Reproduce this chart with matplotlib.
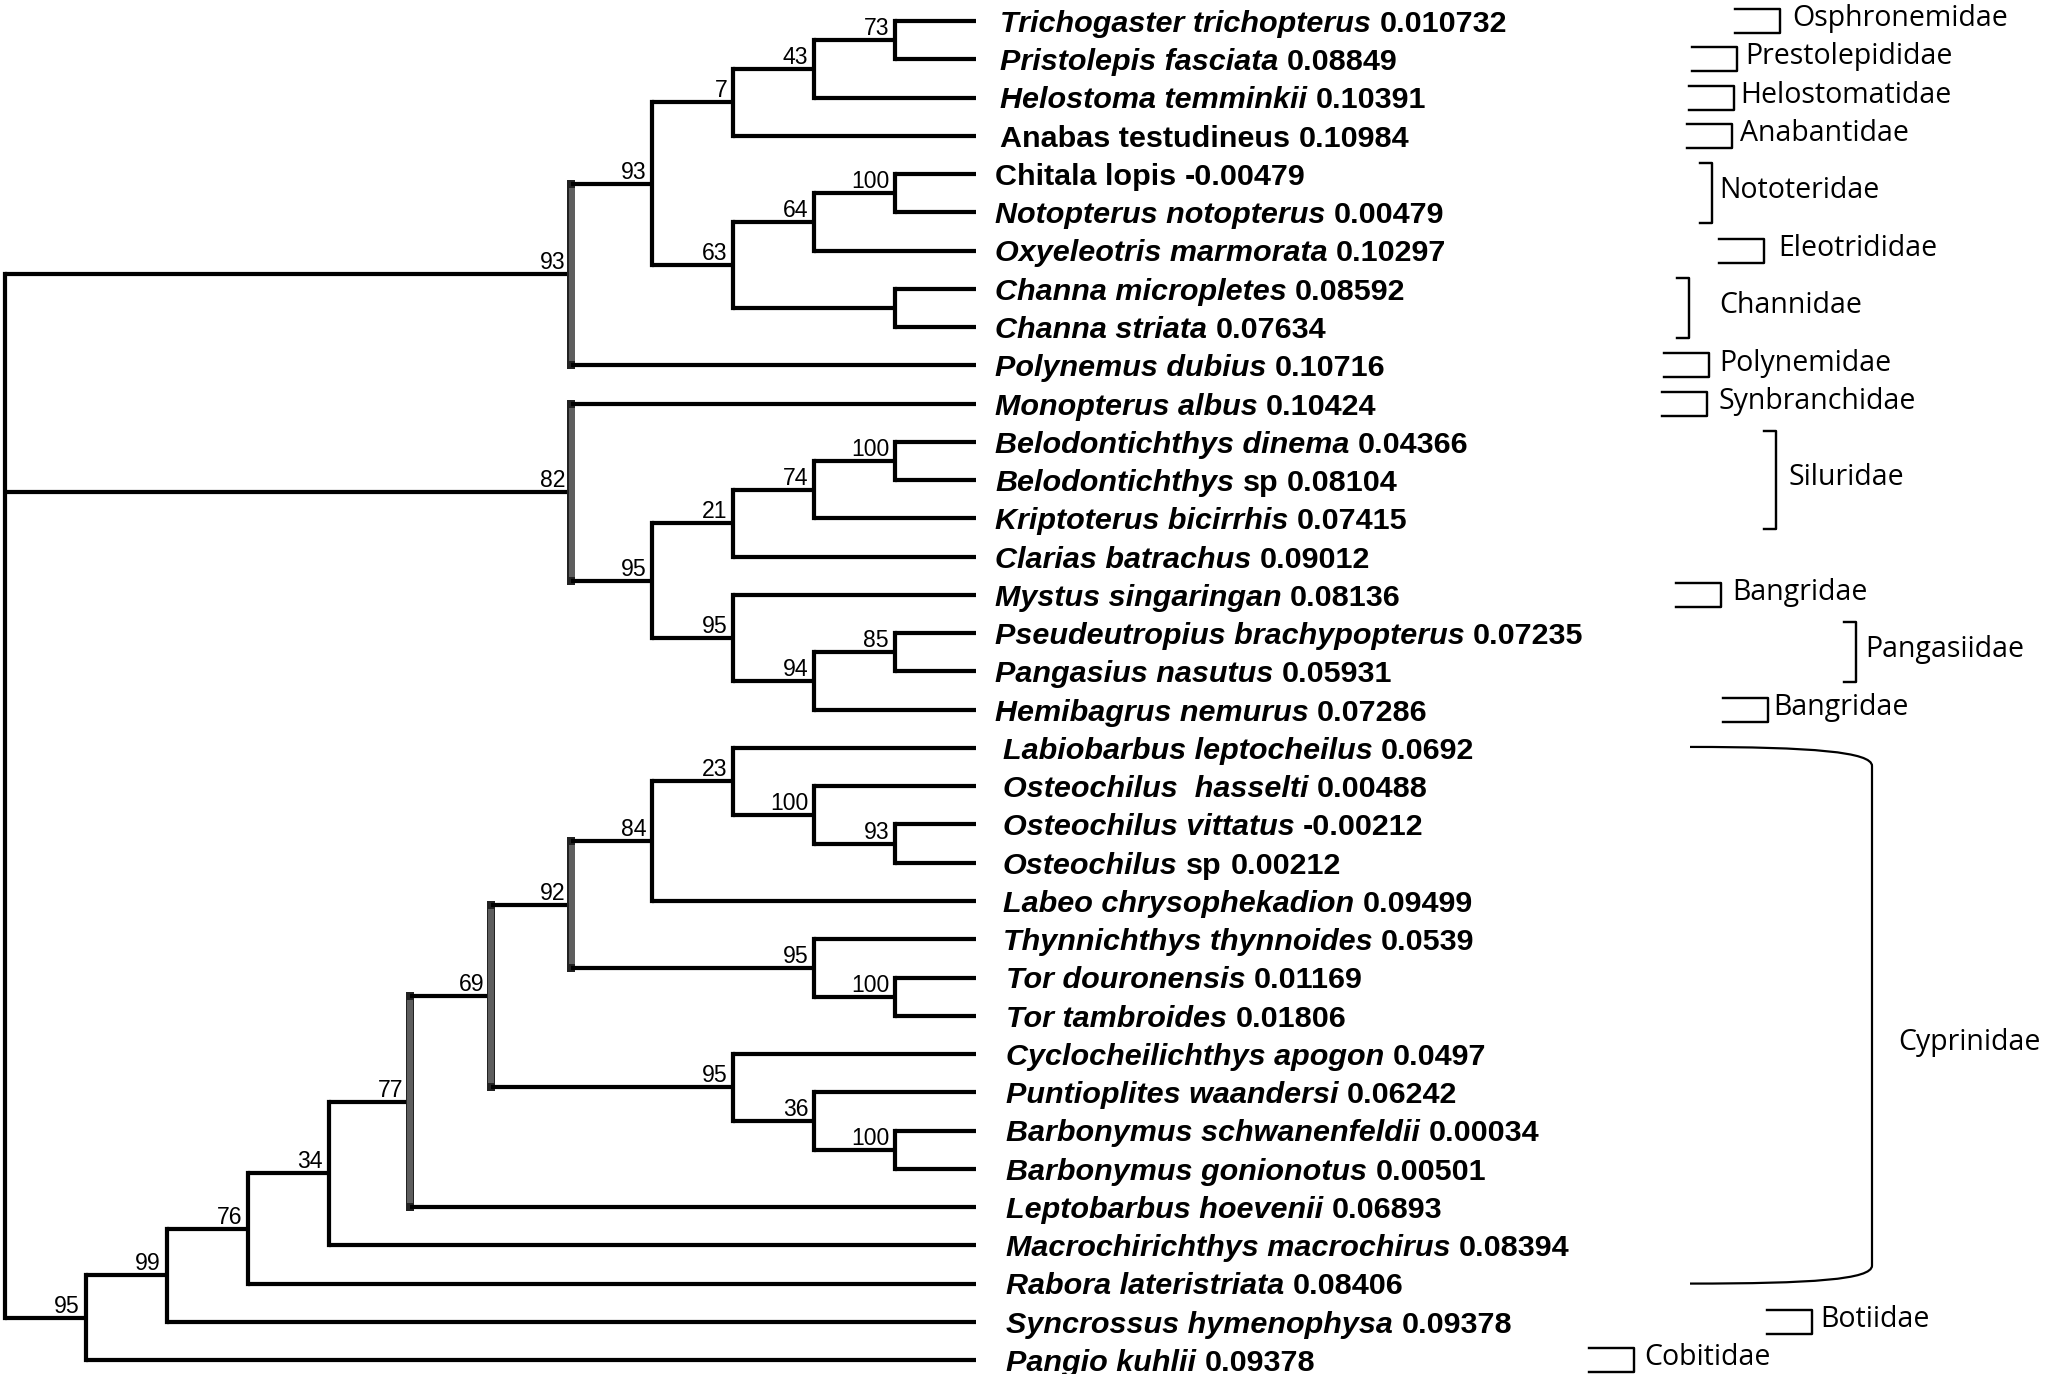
import matplotlib
matplotlib.use("Agg")
import matplotlib.pyplot as plt
from matplotlib.path import Path
from matplotlib.patches import PathPatch

# topology (leaves numbered top to bottom), internal labels = bootstrap support
tree_newick = ("((((((0,1)73,2)43,3)7,(((4,5)100,6)64,(7,8))63)93,9)93,"
               "(10,((((11,12)100,13)74,14)21,(15,((16,17)85,18)94)95)95)82,"
               "(((((((((19,(20,(21,22)93)100)23,23)84,(24,(25,26)100)95)92,"
               "(27,(28,(29,30)100)36)95)69,31)77,32)34,33)76,34)99,35)95);")

leaf_names = ["Trichogaster trichopterus", "Pristolepis fasciata", "Helostoma temminkii",
              "Anabas testudineus", "Chitala lopis", "Notopterus notopterus",
              "Oxyeleotris marmorata", "Channa micropletes", "Channa striata",
              "Polynemus dubius", "Monopterus albus", "Belodontichthys dinema",
              "Belodontichthys sp", "Kriptoterus bicirrhis", "Clarias batrachus",
              "Mystus singaringan", "Pseudeutropius brachypopterus", "Pangasius nasutus",
              "Hemibagrus nemurus", "Labiobarbus leptocheilus", "Osteochilus  hasselti",
              "Osteochilus vittatus", "Osteochilus sp", "Labeo chrysophekadion",
              "Thynnichthys thynnoides", "Tor douronensis", "Tor tambroides",
              "Cyclocheilichthys apogon", "Puntioplites waandersi", "Barbonymus schwanenfeldii",
              "Barbonymus gonionotus", "Leptobarbus hoevenii", "Macrochirichthys macrochirus",
              "Rabora lateristriata", "Syncrossus hymenophysa", "Pangio kuhlii"]
leaf_values = ["0.010732", "0.08849", "0.10391", "0.10984", "-0.00479", "0.00479",
               "0.10297", "0.08592", "0.07634", "0.10716", "0.10424", "0.04366",
               "0.08104", "0.07415", "0.09012", "0.08136", "0.07235", "0.05931",
               "0.07286", "0.0692", "0.00488", "-0.00212", "0.00212", "0.09499",
               "0.0539", "0.01169", "0.01806", "0.0497", "0.06242", "0.00034",
               "0.00501", "0.06893", "0.08394", "0.08406", "0.09378", "0.09378"]
upright_names = ["Anabas testudineus", "Chitala lopis"]

family_names = ["Osphronemidae", "Prestolepididae", "Helostomatidae", "Anabantidae",
                "Nototeridae", "Eleotrididae", "Channidae", "Polynemidae", "Synbranchidae",
                "Siluridae", "Bangridae", "Pangasiidae", "Bangridae", "Cyprinidae",
                "Botiidae", "Cobitidae"]
family_first = [0, 1, 2, 3, 4, 6, 7, 9, 10, 11, 15, 16, 18, 19, 34, 35]
family_last = [0, 1, 2, 3, 5, 6, 8, 9, 10, 13, 15, 17, 18, 33, 34, 35]

# layout (pixel units)
bracket_x = [1780, 1737, 1734, 1732, 1712, 1764, 1689, 1709, 1707, 1776, 1721, 1856, 1768, 1872, 1812, 1634]
family_text_x = [1792, 1745, 1740, 1740, 1719, 1778, 1719, 1719, 1719, 1789, 1732, 1865, 1773, 1898, 1820, 1644]
label_x = [1000] * 4 + [995] * 15 + [1003] * 6 + [1006] * 11
W, H = 2045, 1374
leaf_x, step = 976, 80.9
y0, dy = 21, 38.26
PT = 0.72  # px -> pt at dpi 100


def parse_newick(s):
    pos = 0

    def token():
        nonlocal pos
        start = pos
        while s[pos] not in ",();":
            pos += 1
        return s[start:pos]

    def node():
        nonlocal pos
        if s[pos] == "(":
            pos += 1
            kids = [node()]
            while s[pos] == ",":
                pos += 1
                kids.append(node())
            pos += 1
            return {"kids": kids, "label": token()}
        return {"kids": [], "leaf": int(token())}

    return node()


def layout(n):
    if not n["kids"]:
        n["h"] = 0
        n["y"] = y0 + n["leaf"] * dy
    else:
        for k in n["kids"]:
            layout(k)
        n["h"] = 1 + max(k["h"] for k in n["kids"])
        n["y"] = (n["kids"][0]["y"] + n["kids"][-1]["y"]) / 2
    n["x"] = leaf_x - n["h"] * step


fig = plt.figure(figsize=(W / 100, H / 100), dpi=100)
ax = fig.add_axes([0, 0, 1, 1])
ax.set_xlim(0, W)
ax.set_ylim(H, 0)
ax.axis("off")

root = parse_newick(tree_newick)
layout(root)

tree_lw = 4.2 * PT


def draw(n):
    if not n["kids"]:
        return
    ys = [k["y"] for k in n["kids"]]
    if 5 <= n["h"] <= 7:
        # the deep internal verticals render as a grey bar in the original
        ax.plot([n["x"], n["x"]], [min(ys), max(ys)], color="#222222", lw=8 * PT,
                solid_capstyle="projecting", zorder=2)
        ax.plot([n["x"] + 0.8, n["x"] + 0.8], [min(ys) + 4, max(ys) - 4], color="#5e5e5e",
                lw=6 * PT, solid_capstyle="butt", zorder=3)
    else:
        ax.plot([n["x"], n["x"]], [min(ys), max(ys)], color="black", lw=tree_lw,
                solid_capstyle="projecting", zorder=2)
    for k in n["kids"]:
        ax.plot([n["x"], k["x"]], [k["y"], k["y"]], color="black", lw=tree_lw,
                solid_capstyle="butt", zorder=2)
        draw(k)
    if n.get("label"):
        ax.text(n["x"] - 6, n["y"] - 5, n["label"], ha="right", va="baseline",
                fontsize=23 * PT, family="Liberation Sans", color="black", zorder=4)


draw(root)

# leaf labels
renderer = fig.canvas.get_renderer()
lab_px = 30.5
cap = 0.716 * lab_px
for i, name in enumerate(leaf_names):
    y = y0 + i * dy + cap / 2
    x = label_x[i]
    if name in upright_names:
        parts = [(name, "normal")]
    elif name.endswith(" sp"):
        parts = [(name[:-3], "italic"), ("sp", "normal")]
    else:
        parts = [(name, "italic")]
    parts.append((leaf_values[i], "normal"))
    for txt, style in parts:
        t = ax.text(x, y, txt, ha="left", va="baseline", fontsize=lab_px * PT,
                    family="Liberation Sans", weight="bold", style=style, color="black")
        x += t.get_window_extent(renderer).width + 0.278 * lab_px

# family brackets
fam_px = 28.5
fam_cap = 0.714 * fam_px
blw = 2.4 * PT
for name, a, b, xr, tx in zip(family_names, family_first, family_last, bracket_x, family_text_x):
    ya = y0 + a * dy
    yb = y0 + b * dy
    ty = (ya + yb) / 2 - 5
    if b - a > 5:
        verts = [(xr - 182, ya - 1), (xr - 60, ya - 1), (xr, ya + 4), (xr, ya + 18),
                 (xr, yb - 18), (xr, yb - 4), (xr - 60, yb), (xr - 182, yb)]
        codes = [Path.MOVETO, Path.CURVE4, Path.CURVE4, Path.CURVE4,
                 Path.LINETO, Path.CURVE4, Path.CURVE4, Path.CURVE4]
        ax.add_patch(PathPatch(Path(verts, codes), fill=False, lw=2.2 * PT, color="black"))
        ty += 29
    elif b > a:
        ax.plot([xr - 12, xr, xr, xr - 12], [ya - 11, ya - 11, yb + 11, yb + 11],
                color="black", lw=blw, solid_joinstyle="round")
    else:
        ax.plot([xr - 45, xr, xr, xr - 45], [ya - 12, ya - 12, yb + 12, yb + 12],
                color="black", lw=blw, solid_joinstyle="round")
    ax.text(tx, ty + fam_cap / 2, name, ha="left", va="baseline",
            fontsize=fam_px * PT, family="Open Sans", color="black")

fig.savefig("out.png", dpi=100)
